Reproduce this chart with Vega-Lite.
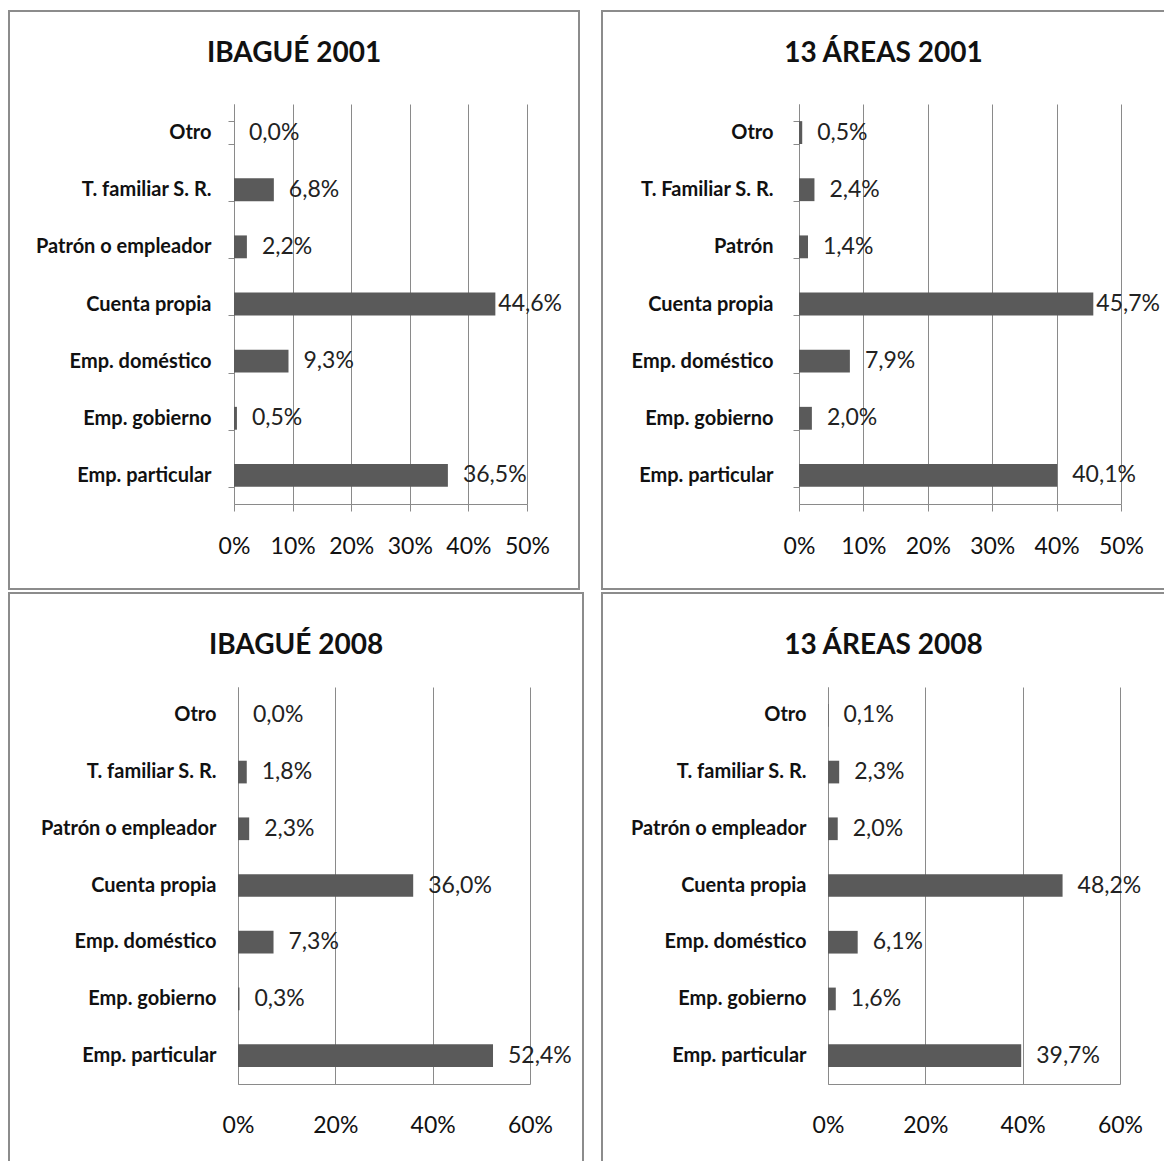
{
  "$schema": "https://vega.github.io/schema/vega-lite/v6.json",
  "background": "white",
  "padding": {"left": 8, "top": 0, "right": 0, "bottom": 0},
  "config": {
    "locale": {"number": {"decimal": ",", "thousands": ".", "grouping": [3], "currency": ["", " €"]}},
    "view": {"stroke": "#8c8c8c", "strokeWidth": 2},
    "axis": {"domainColor": "#8a8a8a", "gridColor": "#8a8a8a", "tickColor": "#8a8a8a", "labelFont": "Lato", "labelColor": "#111111", "domainWidth": 1, "gridWidth": 1, "tickWidth": 1, "labelOverlap": false, "labelFlush": false, "labelBound": false},
    "title": {"font": "Lato", "fontSize": 28, "fontWeight": "bold", "color": "#111111"},
    "text": {"font": "Lato", "fontSize": 23, "color": "#222222"},
    "bar": {"color": "#5a5a5a"}
  },
  "datasets": {
    "tl": [
      {"cat": "Otro", "value": 0.0},
      {"cat": "T. familiar S. R.", "value": 0.068},
      {"cat": "Patrón o empleador", "value": 0.022},
      {"cat": "Cuenta propia", "value": 0.446},
      {"cat": "Emp. doméstico", "value": 0.093},
      {"cat": "Emp. gobierno", "value": 0.005},
      {"cat": "Emp. particular", "value": 0.365}
    ],
    "tr": [
      {"cat": "Otro", "value": 0.005},
      {"cat": "T. Familiar S. R.", "value": 0.024},
      {"cat": "Patrón", "value": 0.014},
      {"cat": "Cuenta propia", "value": 0.457},
      {"cat": "Emp. doméstico", "value": 0.079},
      {"cat": "Emp. gobierno", "value": 0.020},
      {"cat": "Emp. particular", "value": 0.401}
    ],
    "bl": [
      {"cat": "Otro", "value": 0.0},
      {"cat": "T. familiar S. R.", "value": 0.018},
      {"cat": "Patrón o empleador", "value": 0.023},
      {"cat": "Cuenta propia", "value": 0.360},
      {"cat": "Emp. doméstico", "value": 0.073},
      {"cat": "Emp. gobierno", "value": 0.003},
      {"cat": "Emp. particular", "value": 0.524}
    ],
    "br": [
      {"cat": "Otro", "value": 0.001},
      {"cat": "T. familiar S. R.", "value": 0.023},
      {"cat": "Patrón o empleador", "value": 0.020},
      {"cat": "Cuenta propia", "value": 0.482},
      {"cat": "Emp. doméstico", "value": 0.061},
      {"cat": "Emp. gobierno", "value": 0.016},
      {"cat": "Emp. particular", "value": 0.397}
    ]
  },
  "vconcat": [
    {
      "spacing": 21,
      "hconcat": [
        {
          "width": 570, "height": 578,
          "title": {"text": "IBAGUÉ 2001", "anchor": "middle", "frame": "group", "offset": -81, "baseline": "middle"},
          "data": {"name": "tl"},
          "encoding": {
            "y": {"field": "cat", "type": "nominal", "sort": null,
              "scale": {"domain": ["Otro", "T. familiar S. R.", "Patrón o empleador", "Cuenta propia", "Emp. doméstico", "Emp. gobierno", "Emp. particular"], "range": [93, 493], "paddingInner": 0.6, "paddingOuter": 0.3},
              "axis": {"title": null, "offset": -225, "ticks": true, "tickBand": "extent", "tickSize": 6, "labelPadding": 17, "labelFontSize": 20, "labelFontWeight": "bold", "labelLimit": 400, "grid": false}}
          },
          "resolve": {"axis": {"x": "independent"}},
          "layer": [
            {"mark": {"type": "bar"},
             "encoding": {"x": {"field": "value", "type": "quantitative", "scale": {"domain": [0, 0.5], "range": [225, 518], "nice": false, "zero": true},
               "axis": {"orient": "top", "title": null, "values": [0, 0.1, 0.2, 0.3, 0.4, 0.5], "grid": true, "labels": false, "ticks": false, "domain": false}}}},
            {"transform": [{"filter": "datum.value < 0.44"}],
             "mark": {"type": "text", "align": "left", "dx": 15},
             "encoding": {"x": {"field": "value", "type": "quantitative", "scale": {"domain": [0, 0.5], "range": [225, 518], "nice": false, "zero": true},
               "axis": {"orient": "bottom", "title": null, "values": [0, 0.1, 0.2, 0.3, 0.4, 0.5], "format": ".0%", "offset": -85, "grid": false, "ticks": true, "tickSize": 7, "labelPadding": 24, "labelFontSize": 23}},
               "text": {"field": "value", "type": "quantitative", "format": ".1%"}}},
            {"transform": [{"filter": "datum.value >= 0.44"}],
             "mark": {"type": "text", "align": "left", "dx": 3},
             "encoding": {"x": {"field": "value", "type": "quantitative", "scale": {"domain": [0, 0.5], "range": [225, 518], "nice": false, "zero": true}, "axis": null},
               "text": {"field": "value", "type": "quantitative", "format": ".1%"}}}
          ]
        },
        {
          "width": 563, "height": 578,
          "title": {"text": "13 ÁREAS 2001", "anchor": "middle", "frame": "group", "offset": -81, "baseline": "middle"},
          "data": {"name": "tr"},
          "encoding": {
            "y": {"field": "cat", "type": "nominal", "sort": null,
              "scale": {"domain": ["Otro", "T. Familiar S. R.", "Patrón", "Cuenta propia", "Emp. doméstico", "Emp. gobierno", "Emp. particular"], "range": [93, 493], "paddingInner": 0.6, "paddingOuter": 0.3},
              "axis": {"title": null, "offset": -197, "ticks": true, "tickBand": "extent", "tickSize": 6, "labelPadding": 20, "labelFontSize": 20, "labelFontWeight": "bold", "labelLimit": 400, "grid": false}}
          },
          "resolve": {"axis": {"x": "independent"}},
          "layer": [
            {"mark": {"type": "bar"},
             "encoding": {"x": {"field": "value", "type": "quantitative", "scale": {"domain": [0, 0.5], "range": [197, 519], "nice": false, "zero": true},
               "axis": {"orient": "top", "title": null, "values": [0, 0.1, 0.2, 0.3, 0.4, 0.5], "grid": true, "labels": false, "ticks": false, "domain": false}}}},
            {"transform": [{"filter": "datum.value < 0.44"}],
             "mark": {"type": "text", "align": "left", "dx": 15},
             "encoding": {"x": {"field": "value", "type": "quantitative", "scale": {"domain": [0, 0.5], "range": [197, 519], "nice": false, "zero": true},
               "axis": {"orient": "bottom", "title": null, "values": [0, 0.1, 0.2, 0.3, 0.4, 0.5], "format": ".0%", "offset": -85, "grid": false, "ticks": true, "tickSize": 7, "labelPadding": 24, "labelFontSize": 23}},
               "text": {"field": "value", "type": "quantitative", "format": ".1%"}}},
            {"transform": [{"filter": "datum.value >= 0.44"}],
             "mark": {"type": "text", "align": "left", "dx": 3},
             "encoding": {"x": {"field": "value", "type": "quantitative", "scale": {"domain": [0, 0.5], "range": [197, 519], "nice": false, "zero": true}, "axis": null},
               "text": {"field": "value", "type": "quantitative", "format": ".1%"}}}
          ]
        }
      ]
    },
    {
      "spacing": 17,
      "hconcat": [
        {
          "width": 574, "height": 571,
          "title": {"text": "IBAGUÉ 2008", "anchor": "middle", "frame": "group", "offset": -81, "baseline": "middle"},
          "data": {"name": "bl"},
          "encoding": {
            "y": {"field": "cat", "type": "nominal", "sort": null,
              "scale": {"domain": ["Otro", "T. familiar S. R.", "Patrón o empleador", "Cuenta propia", "Emp. doméstico", "Emp. gobierno", "Emp. particular"], "range": [94, 491], "paddingInner": 0.6, "paddingOuter": 0.3},
              "axis": {"title": null, "offset": -229, "ticks": false, "labelPadding": 22, "labelFontSize": 20, "labelFontWeight": "bold", "labelLimit": 400, "grid": false}}
          },
          "resolve": {"axis": {"x": "independent"}},
          "layer": [
            {"mark": {"type": "bar"},
             "encoding": {"x": {"field": "value", "type": "quantitative", "scale": {"domain": [0, 0.6], "range": [229, 521], "nice": false, "zero": true},
               "axis": {"orient": "top", "title": null, "values": [0, 0.2, 0.4, 0.6], "grid": true, "labels": false, "ticks": false, "domain": false}}}},
            {"mark": {"type": "text", "align": "left", "dx": 15},
             "encoding": {"x": {"field": "value", "type": "quantitative", "scale": {"domain": [0, 0.6], "range": [229, 521], "nice": false, "zero": true},
               "axis": {"orient": "bottom", "title": null, "values": [0, 0.2, 0.4, 0.6], "format": ".0%", "offset": -80, "grid": false, "ticks": false, "labelPadding": 30, "labelFontSize": 23}},
               "text": {"field": "value", "type": "quantitative", "format": ".1%"}}}
          ]
        },
        {
          "width": 563, "height": 571,
          "title": {"text": "13 ÁREAS 2008", "anchor": "middle", "frame": "group", "offset": -81, "baseline": "middle"},
          "data": {"name": "br"},
          "encoding": {
            "y": {"field": "cat", "type": "nominal", "sort": null,
              "scale": {"domain": ["Otro", "T. familiar S. R.", "Patrón o empleador", "Cuenta propia", "Emp. doméstico", "Emp. gobierno", "Emp. particular"], "range": [94, 491], "paddingInner": 0.6, "paddingOuter": 0.3},
              "axis": {"title": null, "offset": -226, "ticks": false, "labelPadding": 22, "labelFontSize": 20, "labelFontWeight": "bold", "labelLimit": 400, "grid": false}}
          },
          "resolve": {"axis": {"x": "independent"}},
          "layer": [
            {"mark": {"type": "bar"},
             "encoding": {"x": {"field": "value", "type": "quantitative", "scale": {"domain": [0, 0.6], "range": [226, 518], "nice": false, "zero": true},
               "axis": {"orient": "top", "title": null, "values": [0, 0.2, 0.4, 0.6], "grid": true, "labels": false, "ticks": false, "domain": false}}}},
            {"mark": {"type": "text", "align": "left", "dx": 15},
             "encoding": {"x": {"field": "value", "type": "quantitative", "scale": {"domain": [0, 0.6], "range": [226, 518], "nice": false, "zero": true},
               "axis": {"orient": "bottom", "title": null, "values": [0, 0.2, 0.4, 0.6], "format": ".0%", "offset": -80, "grid": false, "ticks": false, "labelPadding": 30, "labelFontSize": 23}},
               "text": {"field": "value", "type": "quantitative", "format": ".1%"}}}
          ]
        }
      ]
    }
  ],
  "spacing": 2
}
